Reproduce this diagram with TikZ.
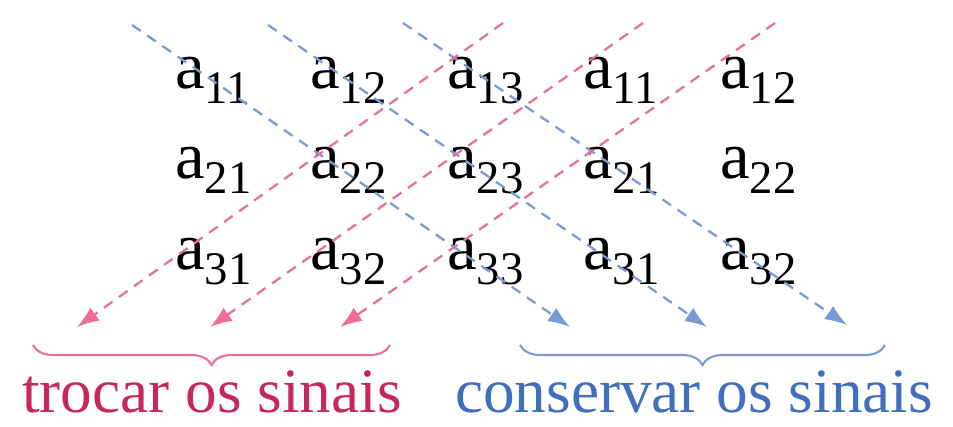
\documentclass[tikz,border=0pt]{standalone}
\usepackage{fontspec}
\setmainfont{Liberation Serif}
\usetikzlibrary{arrows.meta,decorations.pathreplacing}

\definecolor{rosa}{RGB}{234,110,152}
\definecolor{rosaforte}{RGB}{198,40,94}
\definecolor{azul}{RGB}{122,154,214}
\definecolor{azulforte}{RGB}{66,110,190}

\newcommand{\elem}[1]{a\textsubscript{#1}}

\tikzset{
	entrada/.style={anchor=base west, inner sep=0pt, font=\fontsize{38}{42}\selectfont},
	diagrosa/.style={rosa, line width=1.3pt, dash pattern=on 6pt off 4.5pt,
			-{Latex[length=0.44cm,width=0.32cm]}},
	diagazul/.style={diagrosa, azul},
	chave/.style={line width=1.2pt, decorate,
			decoration={brace, mirror, amplitude=0.4cm}},
	rotulo/.style={anchor=base, inner sep=0pt, text depth=0pt,
			font=\fontsize{36}{40}\selectfont}
}

\begin{document}
\begin{tikzpicture}[x=0.02cm, y=-0.02cm]
		\useasboundingbox (0,0) rectangle (953,426);

		% matriz e as duas primeiras colunas repetidas
		\node[entrada] (a11) at (175,88) {\elem{11}};
		\node[entrada] (a12) at (310,88) {\elem{12}};
		\node[entrada] (a13) at (447,88) {\elem{13}};
		\node[entrada] (r11) at (583,88) {\elem{11}};
		\node[entrada] (r12) at (720,88) {\elem{12}};

		\node[entrada] (a21) at (175,178) {\elem{21}};
		\node[entrada] (a22) at (310,178) {\elem{22}};
		\node[entrada] (a23) at (447,178) {\elem{23}};
		\node[entrada] (r21) at (583,178) {\elem{21}};
		\node[entrada] (r22) at (720,178) {\elem{22}};

		\node[entrada] (a31) at (175,269) {\elem{31}};
		\node[entrada] (a32) at (310,269) {\elem{32}};
		\node[entrada] (a33) at (447,269) {\elem{33}};
		\node[entrada] (r31) at (583,269) {\elem{31}};
		\node[entrada] (r32) at (720,269) {\elem{32}};

		% diagonais
		\coordinate (az1) at (132,25);  \coordinate (az1f) at (570,327);
		\coordinate (az2) at (268,25);  \coordinate (az2f) at (707,327);
		\coordinate (az3) at (403,23);  \coordinate (az3f) at (847,325);
		\coordinate (ro1) at (503,23);  \coordinate (ro1f) at (77,327);
		\coordinate (ro2) at (643,23);  \coordinate (ro2f) at (210,327);
		\coordinate (ro3) at (775,23);  \coordinate (ro3f) at (340,327);

		\draw[diagazul] (az1) -- (az1f);
		\draw[diagazul] (az2) -- (az2f);
		\draw[diagazul] (az3) -- (az3f);
		\draw[diagrosa] (ro1) -- (ro1f);
		\draw[diagrosa] (ro2) -- (ro2f);
		\draw[diagrosa] (ro3) -- (ro3f);

		% chaves e textos
		\coordinate (ch1) at (33,345);  \coordinate (ch1f) at (390,345);
		\coordinate (ch2) at (520,345); \coordinate (ch2f) at (885,345);
		\draw[chave, rosa] (ch1) -- (ch1f);
		\draw[chave, azul] (ch2) -- (ch2f);

		\node[rotulo, text=rosaforte] (trocar) at (212,412) {trocar os sinais};
		\node[rotulo, text=azulforte] (conservar) at (694,412) {conservar os sinais};
	\end{tikzpicture}
\end{document}
